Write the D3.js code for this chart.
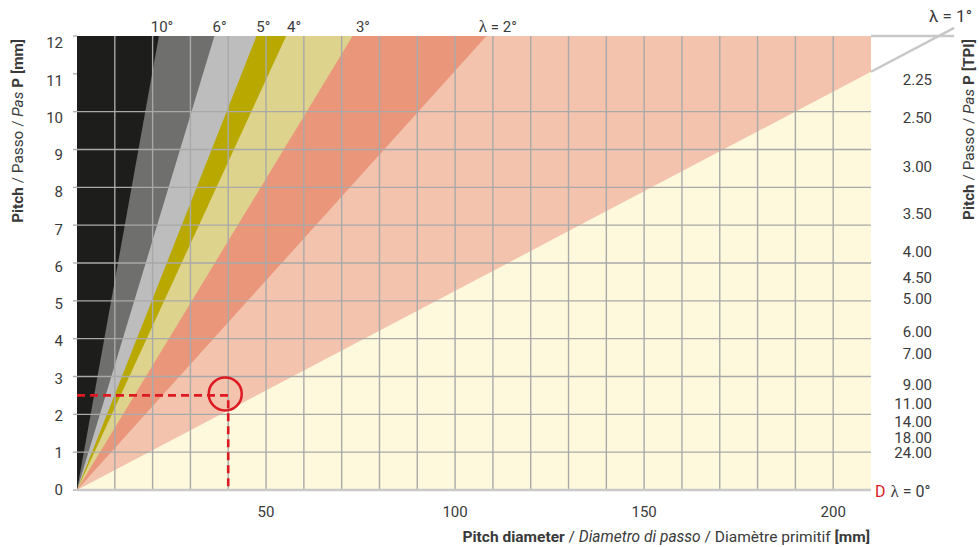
<!DOCTYPE html>
<html><head><meta charset="utf-8">
<script src="https://cdn.jsdelivr.net/npm/d3@7"></script>
<style>
html,body{margin:0;padding:0;background:#fff;}
svg{display:block;}
text{font-family:Roboto,"Open Sans",sans-serif;fill:#3a3a3a;}
</style></head>
<body>
<svg id="c" width="979" height="547"></svg>
<script>
// ---------- data ----------
const xTickValues = [50, 100, 150, 200];
const yTickValues = [0,1,2,3,4,5,6,7,8,9,10,11,12];
const xGridValues = [10,20,30,40,50,60,70,80,90,100,110,120,130,140,150,160,170,180,190,200];
const yGridValues = [1,2,3,4,5,6,7,8,9,10];
const bandAngles = [10, 6, 4.6, 3.95, 3, 2.02, 0.96];          // helix angle boundaries (deg)
const angleLabels = ["10°", "6°", "5°", "4°", "3°", "λ = 2°"];  // labels on first six boundaries
const tpiLabels = ["2.25","2.50","3.00","3.50","4.00","4.50","5.00","6.00","7.00","9.00","11.00","14.00","18.00","24.00"];
const tpiPitch  = [10.85, 9.84, 8.54, 7.30, 6.30, 5.61, 5.05, 4.18, 3.60, 2.78, 2.29, 1.81, 1.38, 0.98];
const exampleD = 40, exampleP = 2.5;
const xMax = 210, yMax = 12, extEnd = 232;

// ---------- styles ----------
const bandColors = ["#1d1d1b","#6f6f6e","#bdbdbd","#b9a800","#ddd38c","#ea967b","#f3c3ae"];
const baseColor = "#fef9dc";
const gridColor = "#a9a9a9";
const red = "#dd1a22";

const svg = d3.select("#c");
const x = d3.scaleLinear().domain([0, xMax]).range([77, 871]);
const y = d3.scaleLinear().domain([0, yMax]).range([490, 36]);
const yLab = d3.scaleLinear().domain([0, yMax]).range([490, 43]);
const slope = a => Math.PI * Math.tan(a * Math.PI / 180); // P = slope * d

svg.append("clipPath").attr("id","plot").append("rect")
  .attr("x", x(0)).attr("y", y(yMax)).attr("width", x(xMax)-x(0)).attr("height", y(0)-y(yMax));

const g = svg.append("g").attr("clip-path","url(#plot)");
g.append("rect").attr("x", x(0)).attr("y", y(yMax)).attr("width", x(xMax)-x(0)).attr("height", y(0)-y(yMax)).attr("fill", baseColor);

// bands: region above each boundary, painted from smallest angle to largest
for (let i = bandAngles.length - 1; i >= 0; i--) {
  const k = slope(bandAngles[i]);
  const pts = [[0,0],[yMax/k, yMax],[0, yMax]].map(p => [x(p[0]), y(p[1])]);
  g.append("polygon").attr("points", pts.map(p => p.join(",")).join(" ")).attr("fill", bandColors[i]);
}

// grid
g.selectAll("line.gx").data(xGridValues).join("line")
  .attr("x1", d => x(d)).attr("x2", d => x(d)).attr("y1", y(0)).attr("y2", y(yMax))
  .attr("stroke", gridColor).attr("stroke-width", 1.4);
g.selectAll("line.gy").data(yGridValues).join("line")
  .attr("x1", x(0)).attr("x2", x(xMax)).attr("y1", d => y(d)).attr("y2", d => y(d))
  .attr("stroke", gridColor).attr("stroke-width", 1.4);

// bottom axis line
svg.append("line").attr("x1", x(0)).attr("x2", x(xMax)).attr("y1", y(0)).attr("y2", y(0))
  .attr("stroke", "#c9c9c9").attr("stroke-width", 2.5);

// left ticks
svg.selectAll("line.lt").data(yTickValues).join("line")
  .attr("x1", x(0)-4).attr("x2", x(0)).attr("y1", d => y(d)).attr("y2", d => y(d))
  .attr("stroke", "#b0b0b0").attr("stroke-width", 1.4);

// left tick labels
svg.selectAll("text.yl").data(yTickValues).join("text")
  .attr("x", 63).attr("y", d => yLab(d)).attr("dy", "0.36em")
  .attr("text-anchor", "end").attr("font-size", 15).text(d => d);

// bottom tick labels
svg.selectAll("text.xl").data(xTickValues).join("text")
  .attr("x", d => x(d)).attr("y", 517)
  .attr("text-anchor", "middle").attr("font-size", 15).text(d => d);

// right TPI labels
svg.selectAll("text.tpi").data(tpiLabels).join("text")
  .attr("x", 932).attr("y", (d, i) => y(tpiPitch[i])).attr("dy", "0.35em")
  .attr("text-anchor", "end").attr("font-size", 15).text(d => d);

// angle labels at top (on boundary lines extended above the plot)
const labelP = 12.45;
angleLabels.forEach((t, i) => {
  const k = slope(bandAngles[i]);
  const lx = x(labelP / k);
  const txt = svg.append("text").attr("y", 32).attr("font-size", 15);
  if (t.startsWith("λ")) {
    txt.attr("x", lx + 15).attr("text-anchor", "end");
    txt.append("tspan").attr("font-family", "'Liberation Serif',serif").attr("font-size", 17).text("λ");
    txt.append("tspan").text(" = 2°");
  } else {
    txt.attr("x", lx).attr("text-anchor", "middle").text(t);
  }
});

// 1° line extension outside the plot
const k1 = slope(bandAngles[bandAngles.length-1]);
svg.append("line").attr("x1", x(xMax)).attr("y1", y(k1*xMax)).attr("x2", x(extEnd)).attr("y2", y(k1*extEnd))
  .attr("stroke", "#c8c8c8").attr("stroke-width", 2.5);
svg.append("line").attr("x1", x(xMax)).attr("y1", y(yMax)).attr("x2", x(extEnd)).attr("y2", y(yMax))
  .attr("stroke", "#c8c8c8").attr("stroke-width", 2.5);
const l1 = svg.append("text").attr("x", 972).attr("y", 22).attr("text-anchor","end")
  .attr("font-family","'Liberation Serif',serif").attr("font-size", 17);
l1.append("tspan").text("λ = 1°");

// D λ = 0°
const l0 = svg.append("text").attr("x", 875).attr("y", 497).attr("font-size", 16);
l0.append("tspan").style("fill", red).text("D");
l0.append("tspan").attr("dx", 5).attr("font-family","'Liberation Serif',serif").attr("font-size", 17).text("λ");
l0.append("tspan").text(" = 0°");

// example reading
svg.append("path")
  .attr("d", `M${x(0)},${y(exampleP)}H${x(exampleD)}V${y(0)}`)
  .attr("fill","none").attr("stroke", red).attr("stroke-width", 2.6).attr("stroke-dasharray","8,5");
svg.append("circle").attr("cx", x(exampleD)-3).attr("cy", y(exampleP)-1.5).attr("r", 16.5)
  .attr("fill","none").attr("stroke", red).attr("stroke-width", 2.5);

// fit a text element's font size so that its length matches a target
function fit(t, target) {
  const fs = +t.attr("font-size");
  const len = t.node().getComputedTextLength();
  t.attr("font-size", (fs * target / len).toFixed(2));
}

// axis titles
const bt = svg.append("text").attr("x", 870).attr("y", 542).attr("text-anchor","end")
  .attr("font-family","'Liberation Sans',Arial,sans-serif").attr("font-size", 14);
bt.append("tspan").attr("font-weight","bold").text("Pitch diameter");
bt.append("tspan").text(" / ");
bt.append("tspan").attr("font-style","italic").text("Diametro di passo");
bt.append("tspan").text(" / Diamètre primitif  ");
bt.append("tspan").attr("font-weight","bold").text("[mm]");
fit(bt, 408);

function vTitle(cx, unit, target) {
  const t = svg.append("text").attr("transform", `translate(${cx},39) rotate(-90)`)
    .attr("text-anchor","end").attr("font-family","'Liberation Sans',Arial,sans-serif").attr("font-size", 14);
  t.append("tspan").attr("font-weight","bold").text("Pitch");
  t.append("tspan").text(" / Passo / ");
  t.append("tspan").attr("font-style","italic").text("Pas");
  t.append("tspan").text(" ");
  t.append("tspan").attr("font-weight","bold").text("P " + unit);
  fit(t, target);
}
vTitle(23, "[mm]", 184);
vTitle(974, "[TPI]", 181);
</script>
</body></html>
